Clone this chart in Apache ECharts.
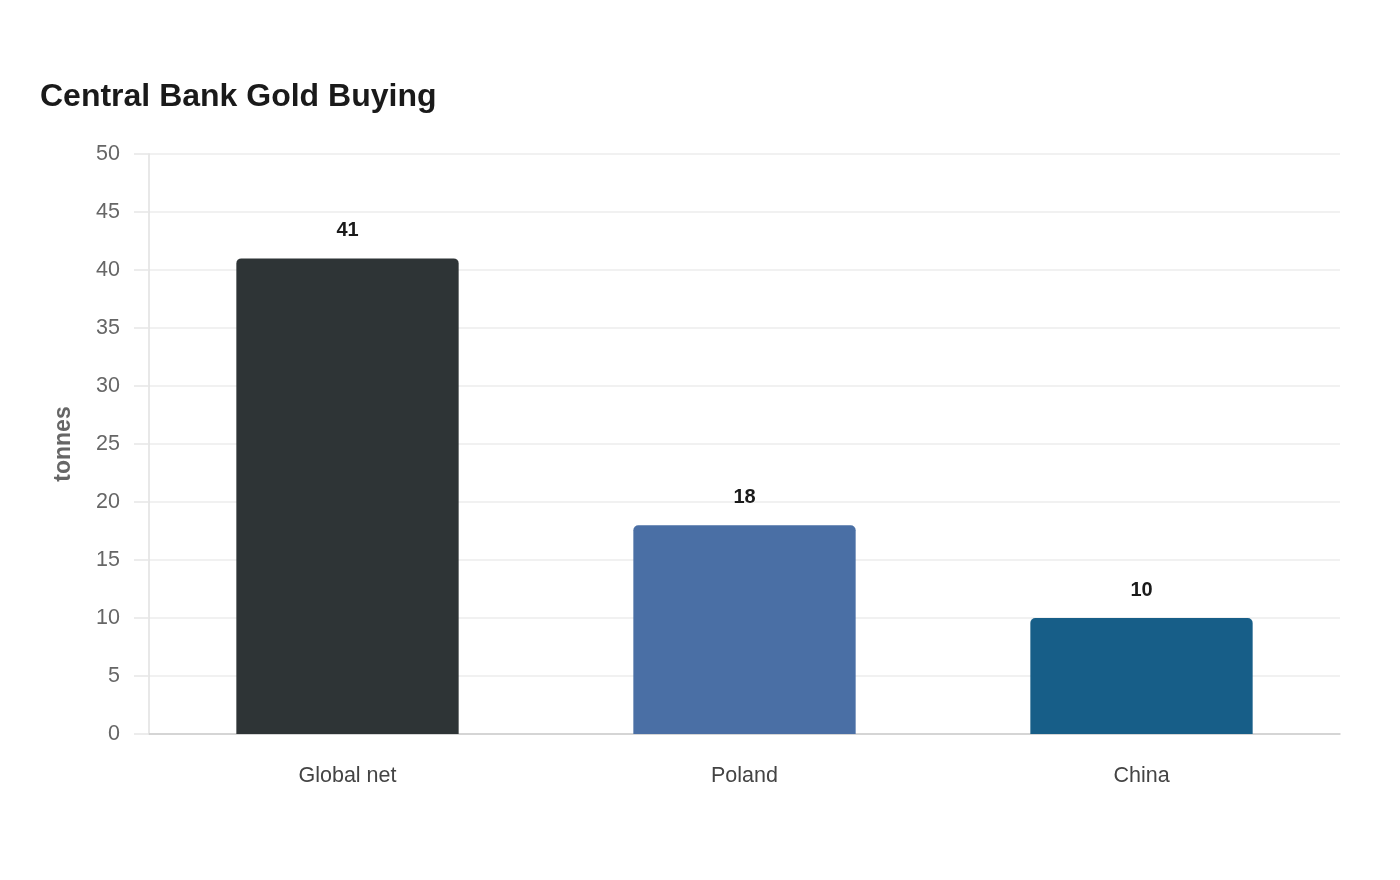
<!DOCTYPE html>
<html lang="en">
<head>
    <meta charset="utf-8">
    <title>Central Bank Gold Buying</title>
    <script src="https://cdn.jsdelivr.net/npm/echarts@6/dist/echarts.min.js"></script>
    <style>
        html, body { margin: 0; padding: 0; background: #fff; }
    </style>
</head>
<body>
<div id="main" style="width: 1400px;height:880px;"></div>
<script type="text/javascript">
    // data
    var categories = ['Global net', 'Poland', 'China'];
    var tonnes = [41, 18, 10];
    var barColors = ['#2e3436', '#4a6fa5', '#175e88'];

    var seriesData = [];
    for (var i = 0; i < tonnes.length; i++) {
        seriesData.push({ value: tonnes[i], itemStyle: { color: barColors[i] } });
    }

    var myChart = echarts.init(document.getElementById('main'), null, { renderer: 'canvas' });
    var option = {
        backgroundColor: '#ffffff',
        textStyle: { fontFamily: 'Liberation Sans, Arial, sans-serif' },
        title: {
            text: 'Central Bank Gold Buying',
            left: 35,
            top: 76,
            textStyle: { fontSize: 32, fontWeight: 'bold', color: '#1a1a1a' }
        },
        grid: { left: 149, right: 60, top: 154, bottom: 146 },
        xAxis: {
            type: 'category',
            data: categories,
            axisLine: { lineStyle: { color: '#cccccc', width: 1.5 } },
            axisTick: { show: false },
            axisLabel: { color: '#444', fontSize: 21.5, margin: 31 }
        },
        yAxis: {
            type: 'value',
            min: 0,
            max: 50,
            interval: 5,
            name: 'tonnes',
            nameLocation: 'middle',
            nameGap: 74,
            nameTextStyle: { color: '#666', fontSize: 23, fontWeight: 'bold' },
            axisLine: { show: true, lineStyle: { color: '#e0e0e0', width: 1.5 } },
            axisTick: { show: true, length: 15, lineStyle: { color: '#e6e6e6', width: 1.5 } },
            axisLabel: { color: '#666', fontSize: 21.5, margin: 29, padding: [2, 0, 0, 0] },
            splitLine: { lineStyle: { color: '#ececec', width: 1.5 } }
        },
        series: [{
            type: 'bar',
            data: seriesData,
            barWidth: '56%',
            itemStyle: { borderRadius: [5, 5, 0, 0] },
            label: {
                show: true,
                position: 'top',
                distance: 18,
                color: '#1a1a1a',
                fontSize: 20,
                fontWeight: 'bold'
            }
        }]
    };
    myChart.setOption(option);
</script>
</body>
</html>
